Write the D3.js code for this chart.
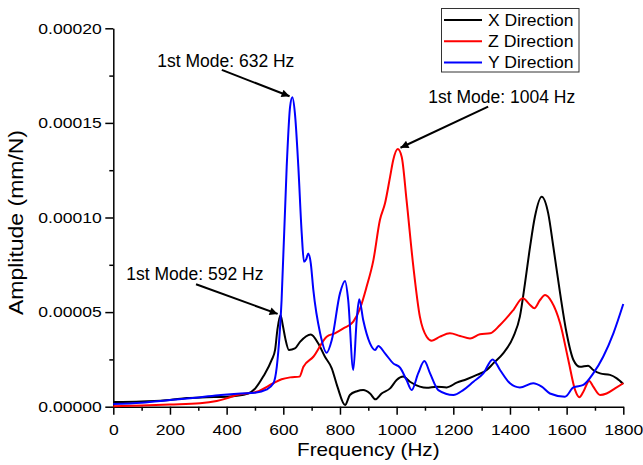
<!DOCTYPE html>
<html>
<head>
<meta charset="utf-8">
<script src="https://cdn.jsdelivr.net/npm/d3@7"></script>
<style>
body { margin: 0; background: #fff; }
text { font-family: "Liberation Sans", Arial, sans-serif; }
</style>
</head>
<body>
<div id="chart"></div>
<script>
var w = 643,
    h = 465;

// amplitudes are in units of 1e-5 mm/N
var xFreq = [0, 100, 200, 259, 330, 400, 476, 500, 529, 559, 571, 579, 590, 598, 607, 620, 641, 659, 697, 723, 747, 771, 791, 818, 835, 860, 882, 906, 925, 947, 977, 1000, 1023, 1047, 1082, 1106, 1141, 1177, 1212, 1247, 1283, 1318, 1341, 1376, 1412, 1435, 1453, 1471, 1488, 1512, 1535, 1553, 1577, 1600, 1624, 1647, 1676, 1694, 1718, 1753, 1777, 1800];
var xAmp = [0.25, 0.28, 0.35, 0.46, 0.5, 0.53, 0.7, 0.95, 1.59, 2.47, 3.0, 4.05, 4.85, 4.32, 3.61, 3.0, 3.08, 3.43, 3.82, 3.35, 2.64, 2.03, 1.06, 0.09, 0.62, 0.82, 0.88, 0.7, 0.39, 0.7, 0.97, 1.41, 1.59, 1.32, 1.06, 1.0, 1.06, 1.02, 1.27, 1.45, 1.68, 1.94, 2.29, 2.82, 3.7, 4.76, 6.52, 8.46, 10.04, 11.1, 10.22, 8.46, 5.99, 3.88, 2.47, 2.11, 2.17, 1.94, 1.76, 1.68, 1.5, 1.2];

var zFreq = [0, 100, 200, 306, 365, 400, 435, 506, 565, 594, 624, 657, 671, 706, 753, 782, 812, 847, 871, 894, 918, 941, 959, 977, 988, 1004, 1018, 1035, 1059, 1082, 1106, 1124, 1153, 1188, 1224, 1259, 1294, 1330, 1365, 1412, 1445, 1471, 1486, 1506, 1524, 1547, 1577, 1606, 1630, 1645, 1659, 1680, 1694, 1718, 1741, 1771, 1800];
var zAmp = [0.03, 0.07, 0.12, 0.18, 0.3, 0.44, 0.62, 0.79, 1.24, 1.45, 1.55, 1.59, 2.11, 2.64, 3.7, 3.88, 4.14, 4.5, 5.2, 6.34, 7.75, 9.87, 10.75, 12.16, 13.04, 13.62, 13.2, 10.92, 7.4, 4.76, 3.7, 3.49, 3.7, 3.88, 3.74, 3.61, 3.83, 3.88, 4.32, 5.11, 5.73, 5.38, 5.2, 5.64, 5.9, 5.55, 4.41, 2.47, 0.88, 0.5, 0.79, 1.36, 1.06, 0.62, 0.7, 0.97, 1.24];

var yFreq = [0, 100, 200, 300, 380, 450, 500, 540, 565, 577, 594, 612, 624, 632, 641, 653, 665, 673, 681, 688, 697, 706, 730, 753, 771, 800, 818, 829, 847, 859, 868, 882, 906, 924, 935, 959, 988, 1012, 1035, 1053, 1076, 1098, 1118, 1147, 1200, 1235, 1271, 1306, 1339, 1365, 1400, 1435, 1482, 1512, 1541, 1594, 1624, 1659, 1694, 1729, 1765, 1800];
var yAmp = [0.14, 0.21, 0.35, 0.49, 0.62, 0.7, 0.74, 0.9, 1.24, 2.11, 5.64, 12.7, 15.86, 16.35, 15.5, 12.7, 9.16, 7.66, 7.8, 8.1, 7.58, 6.17, 3.88, 2.85, 3.52, 5.99, 6.64, 5.64, 1.94, 4.58, 5.68, 4.58, 3.35, 3.0, 3.21, 2.82, 2.29, 2.06, 1.41, 0.88, 1.76, 2.41, 1.76, 0.88, 0.62, 0.88, 1.32, 1.76, 2.5, 1.94, 1.24, 1.02, 1.24, 1.06, 0.7, 0.53, 1.02, 1.15, 1.76, 2.64, 3.88, 5.43];

var seriesNames = ["X Direction", "Z Direction", "Y Direction"];
var seriesColors = ["#000000", "#ff0000", "#0000ff"];

var xTicks = [0, 200, 400, 600, 800, 1000, 1200, 1400, 1600, 1800];
var yTicks = [0, 0.00005, 0.0001, 0.00015, 0.0002];

// annotations: label, peak (Hz, amp), label pos (Hz, amp), arrow tail (Hz, amp)
var notes = [
  {label: "1st Mode: 632 Hz", f: 632, a: 16.35, lf: 397, la: 17.97, tf: 383, ta: 17.8},
  {label: "1st Mode: 1004 Hz", f: 1004, a: 13.62, lf: 1371, la: 16.04, tf: 1323, ta: 15.86},
  {label: "1st Mode: 592 Hz", f: 590, a: 4.85, lf: 288, la: 6.7, tf: 292, ta: 6.47}
];

var margin = {left: 113.3, right: 19.7, top: 28.3, bottom: 58.3};

var svg = d3.select("#chart")
  .append("svg")
  .attr("width", w)
  .attr("height", h);

var x = d3.scaleLinear().domain([0, 1800]).range([margin.left, w - margin.right]);
var y = d3.scaleLinear().domain([0, 0.0002]).range([h - margin.bottom, margin.top]);

function stretch(sel, k) {
  sel.each(function() {
    var len = this.getComputedTextLength();
    d3.select(this).attr("textLength", len * k).attr("lengthAdjust", "spacingAndGlyphs");
  });
}

// minor ticks
svg.append("g")
  .attr("transform", "translate(0," + y(0) + ")")
  .call(d3.axisBottom(x).tickValues(d3.range(100, 1800, 200)).tickSize(4).tickSizeOuter(0).tickFormat(""))
  .call(function(g) { g.select(".domain").remove(); })
  .selectAll("line").attr("stroke-width", 1.5);
svg.append("g")
  .attr("transform", "translate(" + x(0) + ",0)")
  .call(d3.axisLeft(y).tickValues(d3.range(0.000025, 0.0002, 0.00005)).tickSize(4).tickSizeOuter(0).tickFormat(""))
  .call(function(g) { g.select(".domain").remove(); })
  .selectAll("line").attr("stroke-width", 1.5);

// major axes
var xAxis = svg.append("g")
  .attr("transform", "translate(0," + y(0) + ")")
  .call(d3.axisBottom(x).tickValues(xTicks).tickSize(8).tickSizeOuter(0).tickPadding(9.7)
    .tickFormat(d3.format("d")));
var yAxis = svg.append("g")
  .attr("transform", "translate(" + x(0) + ",0)")
  .call(d3.axisLeft(y).tickValues(yTicks).tickSize(8).tickSizeOuter(0).tickPadding(3.6)
    .tickFormat(function(d) { return d.toFixed(5); }));

[xAxis, yAxis].forEach(function(g) {
  g.select(".domain").attr("stroke-width", 1.5);
  g.selectAll("line").attr("stroke-width", 1.5);
  g.selectAll("text")
    .attr("font-size", "15px")
    .attr("fill", "#000")
    .style("font-family", "'Liberation Sans', Arial, sans-serif");
  stretch(g.selectAll("text"), 1.17);
});

// curves
var line = d3.line()
  .x(function(d) { return x(d[0]); })
  .y(function(d) { return y(d[1] * 1e-5); })
  .curve(d3.curveMonotoneX);

var series = [d3.zip(xFreq, xAmp), d3.zip(zFreq, zAmp), d3.zip(yFreq, yAmp)];

svg.selectAll(".curve")
  .data(series)
  .enter()
  .append("path")
  .attr("class", "curve")
  .attr("d", line)
  .attr("fill", "none")
  .attr("stroke", function(d, i) { return seriesColors[i]; })
  .attr("stroke-width", 2)
  .attr("stroke-linejoin", "round");

// arrows
svg.append("defs").append("marker")
  .attr("id", "head")
  .attr("viewBox", "0 0 10 10")
  .attr("refX", 10)
  .attr("refY", 5)
  .attr("markerUnits", "userSpaceOnUse")
  .attr("markerWidth", 11)
  .attr("markerHeight", 8)
  .attr("orient", "auto")
  .append("path")
  .attr("d", "M0,0 L10,5 L0,10 z")
  .attr("fill", "#000");

function tip(d, k) {
  var dx = x(d.f) - x(d.tf), dy = y(d.a * 1e-5) - y(d.ta * 1e-5), l = Math.sqrt(dx*dx + dy*dy);
  return k == "x" ? x(d.f) - dx / l * 3 : y(d.a * 1e-5) - dy / l * 3;
}

svg.selectAll(".arrow")
  .data(notes)
  .enter()
  .append("line")
  .attr("class", "arrow")
  .attr("x1", function(d) { return x(d.tf); })
  .attr("y1", function(d) { return y(d.ta * 1e-5); })
  .attr("x2", function(d) { return tip(d, "x"); })
  .attr("y2", function(d) { return tip(d, "y"); })
  .attr("stroke", "#000")
  .attr("stroke-width", 2)
  .attr("marker-end", "url(#head)");

svg.selectAll(".note")
  .data(notes)
  .enter()
  .append("text")
  .attr("class", "note")
  .attr("x", function(d) { return x(d.lf); })
  .attr("y", function(d) { return y(d.la * 1e-5); })
  .attr("text-anchor", "middle")
  .attr("font-size", "17.5px")
  .text(function(d) { return d.label; });

// axis titles
svg.append("text")
  .attr("x", (x(0) + x(1800)) / 2)
  .attr("y", 455.7)
  .attr("text-anchor", "middle")
  .attr("font-size", "19px")
  .attr("textLength", 142.6)
  .attr("lengthAdjust", "spacingAndGlyphs")
  .text("Frequency (Hz)");

svg.append("text")
  .attr("transform", "translate(23.3,222.5) rotate(-90)")
  .attr("text-anchor", "middle")
  .attr("font-size", "20px")
  .attr("textLength", 185)
  .attr("lengthAdjust", "spacingAndGlyphs")
  .text("Amplitude (mm/N)");

// legend
var legend = svg.append("g");
legend.append("rect")
  .attr("x", 441.5)
  .attr("y", 8.5)
  .attr("width", 137.5)
  .attr("height", 63.5)
  .attr("fill", "#fff")
  .attr("stroke", "#333")
  .attr("stroke-width", 1);

var rows = legend.selectAll(".row")
  .data(seriesNames)
  .enter()
  .append("g")
  .attr("class", "row")
  .attr("transform", function(d, i) { return "translate(0," + (20 + i * 21.2) + ")"; });
rows.append("line")
  .attr("x1", 444).attr("x2", 482)
  .attr("stroke", function(d, i) { return seriesColors[i]; })
  .attr("stroke-width", 2);
rows.append("text")
  .attr("x", 488)
  .attr("y", 6)
  .attr("font-size", "16px")
  .attr("textLength", 85.5)
  .attr("lengthAdjust", "spacingAndGlyphs")
  .text(function(d) { return d; });
</script>
</body>
</html>
